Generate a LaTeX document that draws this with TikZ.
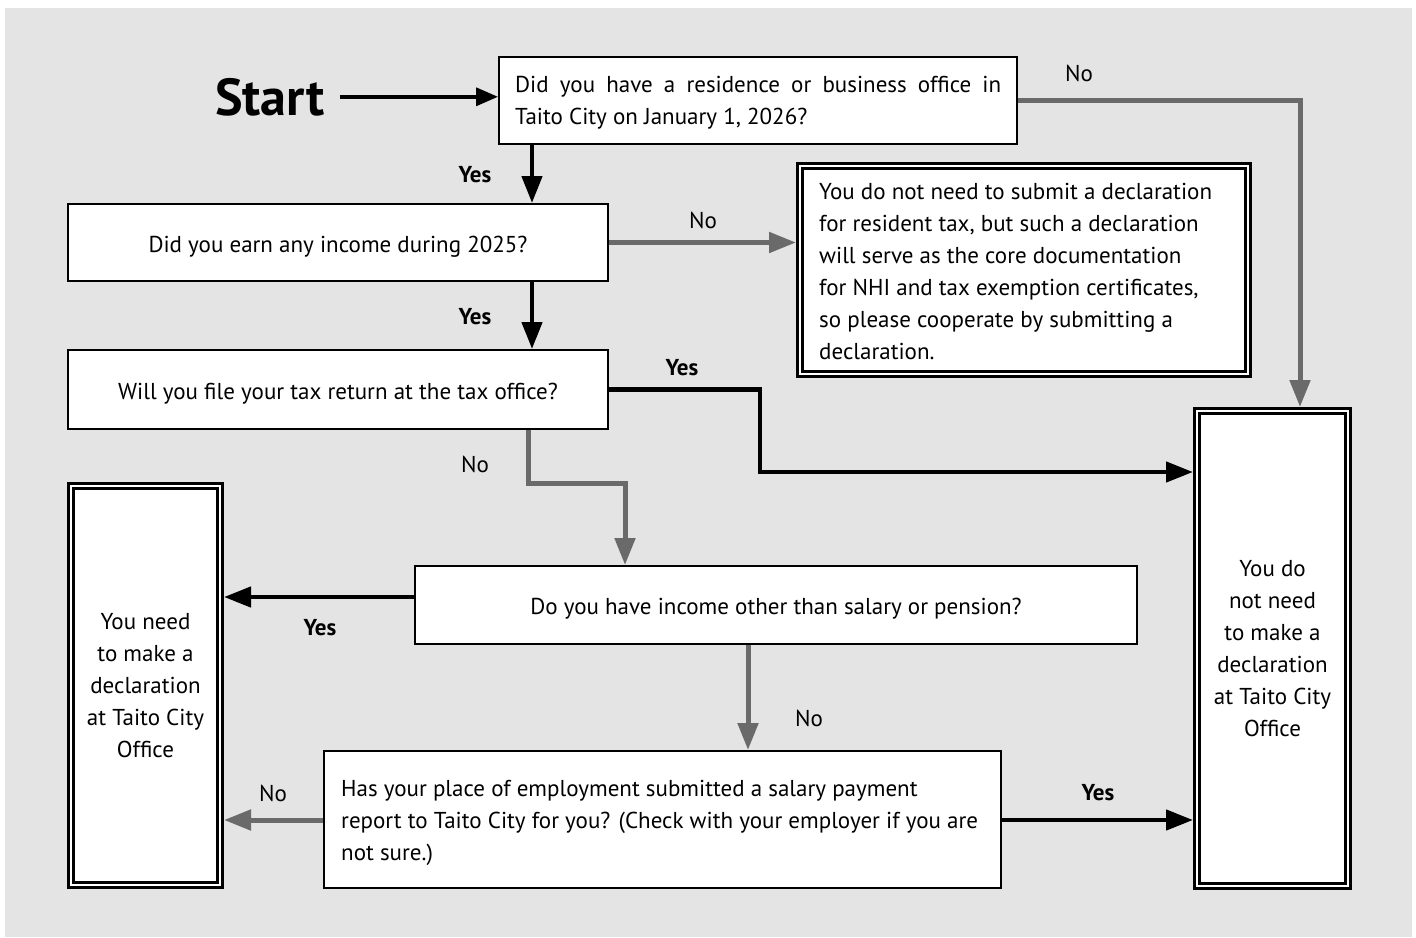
\documentclass[tikz,border=0pt]{standalone}
\usepackage{fontspec}
\setmainfont{PT Sans}
\usetikzlibrary{arrows.meta}
\definecolor{bgc}{HTML}{E4E4E4}
\definecolor{grayc}{HTML}{6A6A6A}
\begin{document}
\begin{tikzpicture}[x=1pt,y=-1pt,
  txt/.style={font=\fontsize{23}{32}\selectfont},
  box/.style={draw=black, line width=2pt, fill=white, inner sep=0pt, txt, text height=21pt, text depth=2pt},
  dbox/.style={draw=black, line width=3pt, double=white, double distance=2pt, fill=white, inner sep=0pt, outer sep=4pt, txt, align=center},
  gr/.style={draw=grayc, line width=5pt, -{Triangle[length=27pt,width=20pt]}},
  bk/.style={draw=black, line width=4.5pt, -{Triangle[length=27pt,width=20pt]}},
  lab/.style={font=\fontsize{23}{28}\selectfont, inner sep=0pt},
  ylab/.style={font=\bfseries\fontsize{23}{28}\selectfont, inner sep=0pt}]
\useasboundingbox (0,0) rectangle (1416,937);
\fill[bgc] (5,8) rectangle (1412,937);

% boxes
\node[box, minimum width=518pt, minimum height=87pt] (q1) at (758,100.5) {};
\node[txt, anchor=west, align=left, inner sep=0pt] (q1t) at (515,103)
  {\makebox[486pt][s]{Did you have a residence or business office in}\\Taito City on January 1, 2026?};
\node[box, minimum width=540pt, minimum height=77pt] (q2) at (338,242.5) {Did you earn any income during 2025?};
\node[box, minimum width=540pt, minimum height=79pt] (q3) at (338,389.5) {Will you file your tax return at the tax office?};
\node[box, minimum width=722pt, minimum height=78pt] (q4) at (776,605) {Do you have income other than salary or pension?};
\node[box, minimum width=677pt, minimum height=137pt] (q5) at (662.5,819.5) {};
\node[txt, anchor=west, align=left, inner sep=0pt] (q5t) at (341,823)
  {Has your place of employment submitted a salary payment\\report to Taito City for you? (Check with your employer if you are\\not sure.)};
\node[dbox, minimum width=448pt, minimum height=208pt] (note) at (1024,270) {};
\node[txt, anchor=west, align=left, inner sep=0pt] (notet) at (819,271)
  {You do not need to submit a declaration\\for resident tax, but such a declaration\\will serve as the core documentation\\for NHI and tax exemption certificates,\\so please cooperate by submitting a\\declaration.};
\node[dbox, minimum width=151pt, minimum height=475pt] (rbox) at (1272.5,648.5)
  {You do\\not need\\to make a\\declaration\\at Taito City\\Office};
\node[dbox, minimum width=149pt, minimum height=399pt] (lbox) at (145.5,685.5)
  {You need\\to make a\\declaration\\at Taito City\\Office};

% start
\node[font=\bfseries\fontsize{52}{52}\selectfont, anchor=base west, inner sep=0pt] (start) at (215,115) {Start};
\draw[black, line width=3.5pt, -{Triangle[length=22pt,width=18pt]}, shorten <=15pt] (start.east) -- (start.east -| q1.west);

% helper coordinates
\coordinate (x532) at (532,0);
\coordinate (x1300) at (1300,0);
\coordinate (c3) at (760,472);
\coordinate (c4) at (528,483);
\coordinate (x625) at (625,0);
\coordinate (y597) at (0,597);
\coordinate (x748) at (748,0);
\coordinate (y820) at (0,820);

% connectors
\draw[gr] (q1.east) -| (rbox.north -| x1300);
\draw[bk] (q1.south -| x532) -- (q2.north -| x532);
\draw[gr] (q2.east) -- (q2.east -| note.west);
\draw[bk] (q2.south -| x532) -- (q3.north -| x532);
\draw[bk] (q3.east) -| (c3) -- (c3 -| rbox.west);
\draw[gr] (c4 |- q3.south) -- (c4) -| (q4.north -| x625);
\draw[bk] (q4.west |- y597) -- (lbox.east |- y597);
\draw[gr] (q4.south -| x748) -- (q5.north -| x748);
\draw[gr] (q5.west |- y820) -- (lbox.east |- y820);
\draw[bk] (q5.east |- y820) -- (rbox.west |- y820);

% labels
\node[lab] (l1) at (1079,73) {No};
\node[ylab] (l2) at (475,175) {Yes};
\node[lab] (l3) at (703,220) {No};
\node[ylab] (l4) at (475,317) {Yes};
\node[ylab] (l5) at (682,368) {Yes};
\node[lab] (l6) at (475,464) {No};
\node[ylab] (l7) at (320,628) {Yes};
\node[lab] (l8) at (809,718) {No};
\node[lab] (l9) at (273,793) {No};
\node[ylab] (l10) at (1098,793) {Yes};
\end{tikzpicture}
\end{document}
